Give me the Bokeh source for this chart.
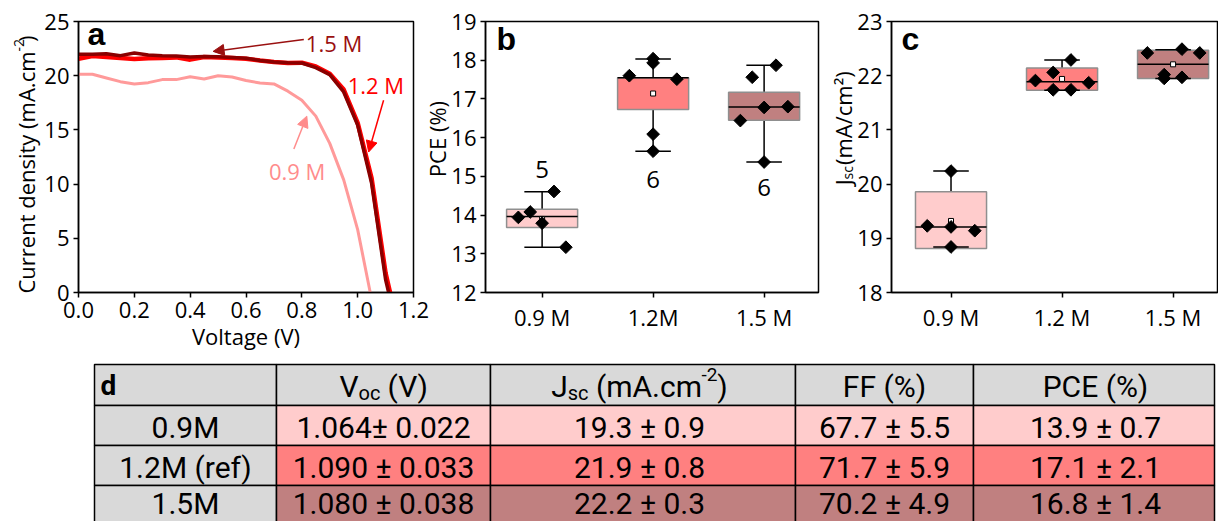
from math import pi

from bokeh.plotting import figure
from bokeh.models import (Range1d, Arrow, NormalHead, FixedTicker,
                          NumeralTickFormatter, ColumnDataSource)
from bokeh.layouts import row, column
from bokeh.embed import file_html
from bokeh.resources import INLINE
from bokeh.core.properties import value

# ---------------------------------------------------------------- data
# panel a : J-V curves
voltage_15 = [0.00, 0.05, 0.10, 0.15, 0.20, 0.25, 0.30, 0.35, 0.40, 0.45, 0.50, 0.55,
              0.60, 0.65, 0.70, 0.75, 0.80, 0.85, 0.90, 0.95, 1.00, 1.05, 1.10, 1.111]
current_15 = [21.97, 21.97, 22.03, 21.85, 22.09, 21.91, 21.85, 21.81, 21.72, 21.78, 21.75, 21.69,
              21.60, 21.41, 21.26, 21.20, 21.17, 20.74, 20.10, 18.50, 15.44, 10.08, 1.20, 0.0]
voltage_12 = [0.00, 0.05, 0.10, 0.15, 0.20, 0.25, 0.30, 0.35, 0.40, 0.45, 0.50, 0.55,
              0.60, 0.65, 0.70, 0.75, 0.80, 0.85, 0.90, 0.95, 1.00, 1.05, 1.10, 1.116]
current_12 = [21.57, 21.81, 21.72, 21.63, 21.54, 21.60, 21.63, 21.69, 21.48, 21.72, 21.69, 21.63,
              21.57, 21.41, 21.26, 21.17, 21.20, 20.86, 20.19, 18.72, 15.65, 10.54, 1.80, 0.0]
voltage_09 = [0.00, 0.05, 0.10, 0.15, 0.20, 0.25, 0.30, 0.35, 0.40, 0.45, 0.50, 0.55,
              0.60, 0.65, 0.70, 0.75, 0.80, 0.85, 0.90, 0.95, 1.00, 1.045]
current_09 = [20.13, 20.13, 19.79, 19.45, 19.24, 19.36, 19.64, 19.64, 19.91, 19.70, 20.00, 19.88,
              19.55, 19.33, 19.24, 18.57, 17.74, 16.27, 13.76, 10.39, 5.80, 0.0]
a_xticks = [0.0, 0.2, 0.4, 0.6, 0.8, 1.0, 1.2]
a_yticks = [0, 5, 10, 15, 20, 25]

# panels b, c : box plots
conc_pos = [1, 2, 3]
pce_ticklabels = ["0.9 M", "1.2M", "1.5 M"]
jsc_ticklabels = ["0.9 M", "1.2 M", "1.5 M"]

pce_q1 = [13.68, 16.73, 16.45]
pce_median = [13.96, 17.55, 16.79]
pce_q3 = [14.15, 17.55, 17.17]
pce_low = [13.17, 15.65, 15.37]
pce_high = [14.60, 18.03, 17.87]
pce_mean = [13.90, 17.14, 16.80]
pce_counts = ["5", "6", "6"]
pce_count_y = [15.19, 14.93, 14.71]
pce_points = [[13.94, 14.08, 13.79, 14.61, 13.17],
              [17.60, 18.04, 17.93, 17.51, 16.09, 15.65],
              [16.44, 17.56, 16.78, 15.37, 17.87, 16.80]]
pce_jitter = [[-0.214, -0.107, 0.0, 0.107, 0.214],
              [-0.214, 0.0, 0.0, 0.214, 0.0, 0.0],
              [-0.214, -0.107, 0.0, 0.0, 0.107, 0.214]]
pce_yticks = [12, 13, 14, 15, 16, 17, 18, 19]

jsc_q1 = [18.81, 21.73, 21.95]
jsc_median = [19.21, 21.89, 22.21]
jsc_q3 = [19.86, 22.14, 22.47]
jsc_low = [18.84, 21.73, 21.95]
jsc_high = [20.24, 22.29, 22.48]
jsc_mean = [19.32, 21.94, 22.21]
jsc_points = [[19.23, 20.24, 19.21, 18.84, 19.14],
              [21.91, 22.06, 21.74, 22.29, 21.74, 21.87],
              [22.42, 22.02, 21.95, 22.49, 21.97, 22.42]]
jsc_jitter = [[-0.214, 0.0, 0.0, 0.0, 0.214],
              [-0.24, -0.08, -0.08, 0.08, 0.08, 0.24],
              [-0.232, -0.08, -0.08, 0.08, 0.08, 0.24]]
jsc_yticks = [18, 19, 20, 21, 22, 23]

# panel d : table
row_labels = ["0.9M", "1.2M (ref)", "1.5M"]
voc_vals = ["1.064\u00b1 0.022", "1.090 \u00b1 0.033", "1.080 \u00b1 0.038"]
jsc_vals = ["19.3 \u00b1 0.9", "21.9 \u00b1 0.8", "22.2 \u00b1 0.3"]
ff_vals = ["67.7 \u00b1 5.5", "71.7 \u00b1 5.9", "70.2 \u00b1 4.9"]
pce_vals = ["13.9 \u00b1 0.7", "17.1 \u00b1 2.1", "16.8 \u00b1 1.4"]

# ---------------------------------------------------------------- styles
C09, C12, C15 = "#FFCCCC", "#FF8080", "#C08080"
BOX_COLORS = [C09, C12, C15]
GRAY = "#D9D9D9"
LINE09, LINE12, LINE15 = "#FF9a9a", "#FF0000", "#8A0000"
FONT = "Open Sans"
TFONT = "Roboto"
BOLDF = "Liberation Sans"
ROW_H = 362          # height of the top row of panels
TOTAL_W, TOTAL_H = 1218, 521


def style(p):
    p.xgrid.visible = False
    p.ygrid.visible = False
    p.outline_line_color = "black"
    p.outline_line_width = 1.5
    p.outline_line_alpha = 1.0
    p.background_fill_color = "white"
    p.border_fill_color = None
    for ax in (p.xaxis[0], p.yaxis[0]):
        ax.axis_line_color = "black"
        ax.axis_line_width = 1.5
        ax.major_tick_line_color = "black"
        ax.major_tick_line_width = 1.5
        ax.major_tick_out = 5
        ax.major_tick_in = 0
        ax.minor_tick_line_color = None
        ax.major_label_text_font = FONT
        ax.major_label_text_font_size = "22px"
        ax.major_label_text_color = "black"
        ax.major_label_standoff = 4


def blank(p, fill=None):
    p.xgrid.visible = False
    p.ygrid.visible = False
    p.outline_line_color = None
    p.background_fill_color = fill
    p.border_fill_color = fill


def mapper(left, top, w, h, xr, yr):
    """page-pixel -> data coordinates for a panel whose frame is (left, top, w, h)"""
    def f(rx, ry):
        x = xr[0] + (rx - left) / w * (xr[1] - xr[0])
        y = yr[1] - (ry - top) / h * (yr[1] - yr[0])
        return x, y
    return f


def txt(p, m, rx, ry, text, size, color="black", font=FONT, align="center",
        baseline="middle", angle=0.0, bold=False):
    x, y = m(rx, ry)
    p.text(x=[x], y=[y], text=[text], text_font=value(font), text_font_size=value(f"{size}px"),
           text_color=color, text_align=align, text_baseline=baseline, angle=angle,
           text_font_style="bold" if bold else "normal")


def strip(x0, width, overlap=0):
    """narrow transparent figure in the top row holding a rotated axis title"""
    p = figure(width=width, height=ROW_H, x_range=Range1d(0, width), y_range=Range1d(0, ROW_H),
               output_backend="svg", toolbar_location=None, tools="",
               x_axis_type=None, y_axis_type=None,
               min_border_left=0, min_border_right=0, min_border_top=0, min_border_bottom=0)
    blank(p)
    if overlap:
        p.margin = (0, 0, 0, -overlap)
    return p, (lambda rx, ry: (rx - x0, ROW_H - ry))


# ---------------------------------------------------------------- panel a   (page x 41 .. 430)
A_X, A_Y = (0.0, 1.2), (0.0, 25.0)
fa = figure(width=389, height=ROW_H, x_range=Range1d(*A_X), y_range=Range1d(*A_Y),
            output_backend="svg", toolbar_location=None, tools="",
            min_border_left=36, min_border_right=17, min_border_top=21, min_border_bottom=69)
style(fa)
fa.xaxis.ticker = FixedTicker(ticks=a_xticks)
fa.xaxis.formatter = NumeralTickFormatter(format="0.0")
fa.yaxis.ticker = FixedTicker(ticks=a_yticks)
fa.xaxis.axis_label = "Voltage (V)"
fa.xaxis.axis_label_text_font = FONT
fa.xaxis.axis_label_text_font_size = "22px"
fa.xaxis.axis_label_text_font_style = "normal"
fa.xaxis.axis_label_text_color = "black"
fa.xaxis.axis_label_standoff = 0
ma = mapper(77, 21, 336, 272, A_X, A_Y)

fa.line(voltage_09, current_09, line_color=LINE09, line_width=3)
fa.line(voltage_12, current_12, line_color=LINE12, line_width=4.5)
fa.line(voltage_15, current_15, line_color=LINE15, line_width=3.5)

txt(fa, ma, 86, 34, "a", 32, font=BOLDF, align="left", bold=True)
txt(fa, ma, 305, 43, "1.5 M", 22, color="#9A1010", align="left")
txt(fa, ma, 347, 85, "1.2 M", 22, color="#FF0000", align="left")
txt(fa, ma, 268, 171, "0.9 M", 22, color="#FF8C8C", align="left")


def arrow(p, m, r0, r1, color):
    x0, y0 = m(*r0)
    x1, y1 = m(*r1)
    p.add_layout(Arrow(x_start=x0, y_start=y0, x_end=x1, y_end=y1, line_color=color, line_width=1.5,
                       end=NormalHead(size=11, fill_color=color, line_color=color, line_width=1)))


arrow(fa, ma, (303, 39), (212, 51), "#9A1010")
arrow(fa, ma, (383, 100), (368, 152), "#FF0000")
arrow(fa, ma, (293, 149), (306, 116), "#FF8C8C")

# y title of a : "Current density (mA.cm" + sup "-2" + ")"  (rotated, reads upward)   page x 0 .. 41
la, mla = strip(0, 41)
P_end = 40.0
txt(la, mla, 25, P_end, "Current density (mA.cm", 22, align="right", angle=pi / 2)
txt(la, mla, 18, P_end, "-2", 14, align="left", angle=pi / 2)
txt(la, mla, 25, P_end - 12.5, ")", 22, align="left", angle=pi / 2)

# ---------------------------------------------------------------- box-plot helper


def boxplot(p, q1, med, q3, low, high, mean, points, jitter):
    src = ColumnDataSource(dict(x=conc_pos, q1=q1, q3=q3, med=med, low=low, high=high,
                                mean=mean, color=BOX_COLORS,
                                xl=[c - 0.32 for c in conc_pos], xr=[c + 0.32 for c in conc_pos],
                                cl=[c - 0.16 for c in conc_pos], cr=[c + 0.16 for c in conc_pos]))
    p.segment(x0="x", y0="q3", x1="x", y1="high", source=src, line_color="black", line_width=1.5)
    p.segment(x0="x", y0="q1", x1="x", y1="low", source=src, line_color="black", line_width=1.5)
    p.vbar(x="x", width=0.64, top="q3", bottom="q1", source=src, fill_color="color",
           line_color="#8f8f8f", line_width=1.5)
    p.segment(x0="cl", y0="high", x1="cr", y1="high", source=src, line_color="black", line_width=1.5)
    p.segment(x0="cl", y0="low", x1="cr", y1="low", source=src, line_color="black", line_width=1.5)
    p.segment(x0="xl", y0="med", x1="xr", y1="med", source=src, line_color="black", line_width=1.5)
    p.scatter(x="x", y="mean", source=src, marker="square", size=5, fill_color="white",
              line_color="black", line_width=1)
    xs, ys = [], []
    for c, pts, jit in zip(conc_pos, points, jitter):
        for v, j in zip(pts, jit):
            xs.append(c + j)
            ys.append(v)
    p.scatter(xs, ys, marker="square", angle=pi / 4, size=9, fill_color="black",
              line_color="black")


# "PCE (%)" title strip : page x 420 .. 452 (overlaps panel a's right border by 10 px)
lb, mlb = strip(420, 32, overlap=10)
txt(lb, mlb, 436, 157, "PCE (%)", 22, angle=pi / 2)

# ---------------------------------------------------------------- panel b   (page x 448 .. 826)
B_X, B_Y = (0.49, 3.49), (12.0, 19.0)
fb = figure(width=378, height=ROW_H, x_range=Range1d(*B_X), y_range=Range1d(*B_Y),
            output_backend="svg", toolbar_location=None, tools="",
            min_border_left=34, min_border_right=8, min_border_top=19, min_border_bottom=70)
fb.margin = (0, 0, 0, -4)
style(fb)
fb.xaxis.ticker = FixedTicker(ticks=conc_pos)
fb.xaxis.major_label_overrides = {c: t for c, t in zip(conc_pos, pce_ticklabels)}
fb.yaxis.ticker = FixedTicker(ticks=pce_yticks)
mb = mapper(482, 19, 336, 273, B_X, B_Y)
boxplot(fb, pce_q1, pce_median, pce_q3, pce_low, pce_high, pce_mean, pce_points, pce_jitter)
fb.text(x=conc_pos, y=pce_count_y, text=pce_counts, text_font=value(FONT),
        text_font_size=value("24px"), text_align="center", text_baseline="middle",
        text_color="black")
txt(fb, mb, 493, 37, "b", 32, font=BOLDF, align="left", bold=True)

# "Jsc (mA/cm²)" title strip : page x 822 .. 858
lc, mlc = strip(822, 36, overlap=4)
PJ = 211.0
txt(lc, mlc, 842, PJ, "J", 22, align="right", angle=pi / 2)
txt(lc, mlc, 847, PJ, "sc", 14, align="left", angle=pi / 2)
txt(lc, mlc, 842, PJ - 13.5 - 5.7, "(mA/cm\u00b2)", 22, align="left", angle=pi / 2)

# ---------------------------------------------------------------- panel c   (page x 854 .. 1218)
C_X, C_Y = (0.464, 3.40), (18.0, 23.0)
fc = figure(width=364, height=ROW_H, x_range=Range1d(*C_X), y_range=Range1d(*C_Y),
            output_backend="svg", toolbar_location=None, tools="",
            min_border_left=34, min_border_right=1, min_border_top=19, min_border_bottom=70)
fc.margin = (0, 0, 0, -4)
style(fc)
fc.xaxis.ticker = FixedTicker(ticks=conc_pos)
fc.xaxis.major_label_overrides = {c: t for c, t in zip(conc_pos, jsc_ticklabels)}
fc.yaxis.ticker = FixedTicker(ticks=jsc_yticks)
mc = mapper(888, 19, 329, 273, C_X, C_Y)
boxplot(fc, jsc_q1, jsc_median, jsc_q3, jsc_low, jsc_high, jsc_mean, jsc_points, jsc_jitter)
txt(fc, mc, 898, 37, "c", 32, font=BOLDF, align="left", bold=True)

# ---------------------------------------------------------------- panel d (table)
TH = TOTAL_H - ROW_H
ft = figure(width=TOTAL_W, height=TH, x_range=Range1d(0, TOTAL_W), y_range=Range1d(0, TH),
            output_backend="svg", toolbar_location=None, tools="",
            x_axis_type=None, y_axis_type=None,
            min_border_left=0, min_border_right=0, min_border_top=0, min_border_bottom=0)
blank(ft, "white")
mt = lambda rx, ry: (rx, TOTAL_H - ry)

col_edges = [94, 276, 490, 795, 973, 1214]
row_edges = [364, 405, 445, 485, 525]
col_text_x = [185, 383, 639, 884, 1095]
row_text_y = [386, 427, 467, 503]
row_fill = [GRAY, C09, C12, C15]
L, R, T, B, F = [], [], [], [], []
for r in range(4):
    for c in range(5):
        L.append(col_edges[c]); R.append(col_edges[c + 1])
        T.append(TOTAL_H - row_edges[r]); B.append(TOTAL_H - row_edges[r + 1])
        F.append(GRAY if (r == 0 or c == 0) else row_fill[r])
ft.quad(left=L, right=R, top=T, bottom=B, fill_color=F, line_color="black", line_width=1.5)


def tt(rx, ry, text, size=30, align="center", bold=False):
    txt(ft, mt, rx, ry, text, size, font=TFONT, align=align, bold=bold)


for r, cols in enumerate(zip(row_labels, voc_vals, jsc_vals, ff_vals, pce_vals), start=1):
    for c, t in enumerate(cols):
        tt(col_text_x[c], row_text_y[r], t)

yh = row_text_y[0]
SP = 7.4   # width of a space at 30 px (leading spaces are dropped by SVG)
tt(100, yh - 1, "d", size=28, align="left", bold=True)
# V_oc (V)
P1 = col_text_x[1] - 44.0 + 19.1
tt(P1, yh, "V", align="right")
tt(P1, yh + 6, "oc", size=20, align="left")
tt(P1 + 21.6 + SP, yh, "(V)", align="left")
# J_sc (mA.cm^-2)
P2 = col_text_x[2] - 88.0 + 16.2
tt(P2, yh, "J", align="right")
tt(P2, yh + 6, "sc", size=20, align="left")
tt(P2 + 20.8 + SP, yh, "(mA.cm", align="left")
Q2 = P2 + 20.8 + 112.9
tt(Q2, yh - 12, "-2", size=19, align="left")
tt(Q2 + 15.9, yh, ")", align="left")
tt(col_text_x[3], yh, "FF (%)")
tt(col_text_x[4], yh, "PCE (%)")

layout = column(row(la, fa, lb, fb, lc, fc), ft)
open("out.html", "w").write(file_html(layout, INLINE))
